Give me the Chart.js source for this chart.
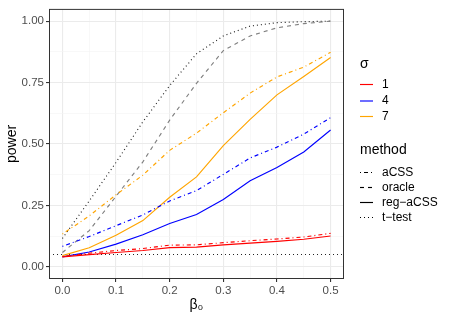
<!DOCTYPE html>
<html>
<head>
<meta charset="utf-8">
<script src="https://cdn.jsdelivr.net/npm/chart.js@4.4.1/dist/chart.umd.min.js"></script>
<style>
html,body{margin:0;padding:0;background:#fff;}
#wrap{width:449px;height:320px;position:relative;}
</style>
</head>
<body>
<div id="wrap"><canvas id="c" width="449" height="320"></canvas></div>
<script>
const beta0 = [0, 0.05, 0.1, 0.15, 0.2, 0.25, 0.3, 0.35, 0.4, 0.45, 0.5];
const sigmaLevels = ['1', '4', '7'];
const methodLevels = ['aCSS', 'oracle', 'reg\u2212aCSS', 't\u2212test'];
const red_aCSS    = [0.041, 0.055, 0.066, 0.074, 0.088, 0.089, 0.098, 0.106, 0.113, 0.121, 0.136];
const red_reg     = [0.040, 0.049, 0.058, 0.066, 0.078, 0.080, 0.089, 0.096, 0.103, 0.112, 0.125];
const blue_aCSS   = [0.083, 0.123, 0.167, 0.211, 0.268, 0.310, 0.376, 0.443, 0.487, 0.540, 0.607];
const blue_reg    = [0.040, 0.060, 0.092, 0.130, 0.176, 0.213, 0.274, 0.350, 0.404, 0.467, 0.557];
const orange_aCSS = [0.133, 0.207, 0.293, 0.373, 0.474, 0.544, 0.627, 0.707, 0.773, 0.813, 0.873];
const orange_reg  = [0.045, 0.077, 0.128, 0.188, 0.283, 0.366, 0.493, 0.600, 0.700, 0.775, 0.852];
const oracle      = [0.058, 0.147, 0.287, 0.427, 0.597, 0.747, 0.880, 0.940, 0.973, 0.990, 1.000];
const ttest       = [0.115, 0.268, 0.425, 0.590, 0.738, 0.867, 0.940, 0.980, 0.994, 0.998, 1.000];
const alphaLevel = 0.05;
const xTicks = [0, 0.1, 0.2, 0.3, 0.4, 0.5];
const xMinor = [0.05, 0.15, 0.25, 0.35, 0.45];
const yTicks = [0, 0.25, 0.5, 0.75, 1];
const yMinor = [0.125, 0.375, 0.625, 0.875];

const COL = {'1':'#FF0000','4':'#0000FF','7':'#FFA500'};
const DASH = {'aCSS':[1,3,4,3],'oracle':[4,4],'reg\u2212aCSS':[],'t\u2212test':[1,3]};
const FONT = "'Liberation Sans', Arial, sans-serif";

function pts(arr){ return beta0.map((x,i)=>({x:x,y:arr[i]})); }
function ds(arr,color,dash){
  return {data:pts(arr),borderColor:color,borderWidth:1.15,borderDash:dash,
          pointRadius:0,fill:false,tension:0,borderCapStyle:'butt'};
}

const datasets = [
  ds(red_aCSS, COL['1'], DASH['aCSS']),
  ds(red_reg, COL['1'], DASH['reg\u2212aCSS']),
  ds(blue_aCSS, COL['4'], DASH['aCSS']),
  ds(blue_reg, COL['4'], DASH['reg\u2212aCSS']),
  ds(orange_aCSS, COL['7'], DASH['aCSS']),
  ds(orange_reg, COL['7'], DASH['reg\u2212aCSS']),
  ds(oracle, '#808080', DASH['oracle']),
  ds(ttest, '#222222', DASH['t\u2212test'])
];

const decor = {
  id:'decor',
  beforeDatasetsDraw(chart){
    const {ctx, chartArea:a, scales:{y}} = chart;
    const py = Math.round(y.getPixelForValue(alphaLevel))+0.5;
    ctx.save();
    ctx.strokeStyle='#222222'; ctx.lineWidth=1.15; ctx.setLineDash([1,3]);
    ctx.beginPath(); ctx.moveTo(a.left,py); ctx.lineTo(a.right,py); ctx.stroke();
    ctx.restore();
  },
  afterDraw(chart){
    const {ctx, chartArea:a} = chart;
    ctx.save();
    ctx.strokeStyle='#333333'; ctx.lineWidth=1; ctx.setLineDash([]);
    ctx.strokeRect(a.left+0.5,a.top+0.5,a.right-a.left-1,a.bottom-a.top-1);
    // legend
    const kx0=360, kx1=373, tx=382;
    ctx.textBaseline='middle'; ctx.textAlign='left';
    ctx.fillStyle='#000';
    ctx.font="14px "+FONT;
    ctx.fillText('\u03C3', 360, 64);
    const sy=[84.5,101,116.5];
    sigmaLevels.forEach((s,i)=>{
      ctx.strokeStyle=COL[s]; ctx.lineWidth=1.15; ctx.setLineDash([]);
      ctx.beginPath(); ctx.moveTo(kx0,sy[i]); ctx.lineTo(kx1,sy[i]); ctx.stroke();
      ctx.fillStyle='#000'; ctx.font="12px "+FONT;
      ctx.fillText(s, tx, sy[i]);
    });
    ctx.font="14px "+FONT;
    ctx.fillText('method', 360, 150);
    const my=[172.5,187.5,202.5,217.5];
    methodLevels.forEach((m,i)=>{
      ctx.strokeStyle='#000'; ctx.lineWidth=1.15; ctx.setLineDash(DASH[m]);
      ctx.beginPath(); ctx.moveTo(kx0,my[i]); ctx.lineTo(kx1,my[i]); ctx.stroke();
      ctx.fillStyle='#000'; ctx.font="12px "+FONT;
      ctx.fillText(m, tx, my[i]);
    });
    ctx.restore();
  }
};

const majorSetX = new Set(xTicks.map(v=>v.toFixed(3)));
const majorSetY = new Set(yTicks.map(v=>v.toFixed(3)));

new Chart(document.getElementById('c'), {
  type:'line',
  data:{datasets},
  options:{
    responsive:false, animation:false, devicePixelRatio:1,
    layout:{padding:{top:4,right:105,left:0,bottom:0}},
    plugins:{legend:{display:false},tooltip:{enabled:false}},
    scales:{
      x:{type:'linear',min:-0.025,max:0.525,
        afterBuildTicks(s){ s.ticks=[...xTicks,...xMinor].sort((a,b)=>a-b).map(v=>({value:v})); },
        afterFit(s){ s.height=41; },
        border:{display:false},
        grid:{
          color:(c)=> majorSetX.has(Number(c.tick.value).toFixed(3)) ? '#EBEBEB' : '#F3F3F3',
          lineWidth:(c)=> majorSetX.has(Number(c.tick.value).toFixed(3)) ? 1.1 : 0.6,
          tickColor:(c)=> majorSetX.has(Number(c.tick.value).toFixed(3)) ? '#333333' : 'rgba(0,0,0,0)',
          tickLength:3, drawTicks:true
        },
        ticks:{autoSkip:false,maxRotation:0,padding:2,color:'#4D4D4D',font:{family:FONT,size:11.5},
          callback:(v)=> majorSetX.has(Number(v).toFixed(3)) ? Number(v).toFixed(1) : ''},
        title:{display:true,text:'\u03B2\u2080',color:'#000',font:{family:FONT,size:14},padding:{top:0,bottom:6}}
      },
      y:{type:'linear',min:-0.05,max:1.05,
        afterBuildTicks(s){ s.ticks=[...yTicks,...yMinor].sort((a,b)=>a-b).map(v=>({value:v})); },
        afterFit(s){ s.width=49; },
        border:{display:false},
        grid:{
          color:(c)=> majorSetY.has(Number(c.tick.value).toFixed(3)) ? '#EBEBEB' : '#F3F3F3',
          lineWidth:(c)=> majorSetY.has(Number(c.tick.value).toFixed(3)) ? 1.1 : 0.6,
          tickColor:(c)=> majorSetY.has(Number(c.tick.value).toFixed(3)) ? '#333333' : 'rgba(0,0,0,0)',
          tickLength:3, drawTicks:true
        },
        ticks:{autoSkip:false,padding:2,color:'#4D4D4D',font:{family:FONT,size:11.5},
          callback:(v)=> majorSetY.has(Number(v).toFixed(3)) ? Number(v).toFixed(2) : ''},
        title:{display:true,text:'power',color:'#000',font:{family:FONT,size:14},padding:{top:4,bottom:0}}
      }
    }
  },
  plugins:[decor]
});
</script>
</body>
</html>
